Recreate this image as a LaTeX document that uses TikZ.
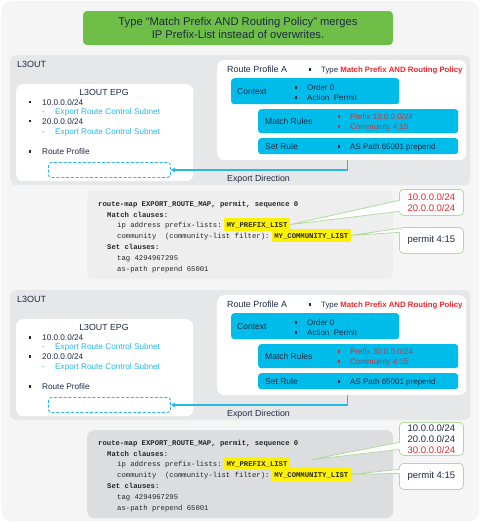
\documentclass[tikz,border=0pt]{standalone}
\usepackage{fontspec}
\setmainfont{Liberation Sans}
\setmonofont{Liberation Mono}
\usetikzlibrary{arrows.meta, positioning}
\definecolor{cscyan}{RGB}{0, 188, 235}
\definecolor{csline}{RGB}{40, 184, 230}
\definecolor{csnavy}{RGB}{30, 42, 68}
\definecolor{csred}{RGB}{232, 40, 45}
\definecolor{csrust}{RGB}{200, 55, 60}
\definecolor{csgreen}{RGB}{110, 190, 72}
\definecolor{csmint}{RGB}{178, 218, 160}
\definecolor{bgout}{RGB}{245, 245, 245}
\definecolor{bgpanel}{RGB}{230, 231, 232}
\definecolor{codeA}{RGB}{238, 238, 238}
\definecolor{codeB}{RGB}{220, 221, 222}
\newcommand{\fsz}[1]{\fontsize{#1}{#1}\selectfont}
\newcommand{\sqbul}{\rule[0.22em]{0.28em}{0.28em}}

\begin{document}
\begin{tikzpicture}[
    x=1pt, y=-1pt,
    txt/.style={anchor=west, inner sep=0pt, text=csnavy,
                text height=1.5ex, text depth=.25ex},
    panel/.style={fill=bgpanel, rounded corners=6pt, anchor=north west,
                  inner sep=0pt},
    card/.style={fill=white, rounded corners=7pt, anchor=north west,
                 inner sep=0pt},
    rulebox/.style={fill=cscyan, rounded corners=3pt, anchor=north west,
                    inner sep=0pt},
    codebox/.style={rounded corners=7pt, anchor=north west, inner sep=0pt},
    code/.style={anchor=west, inner sep=0pt, text=black!85,
                 font=\ttfamily\fsz{7.25}, text height=1.5ex, text depth=.25ex},
    codeb/.style={code, font=\ttfamily\bfseries\fsz{7.25}},
    hl/.style={fill=yellow, inner xsep=2.5pt, inner ysep=1.8pt, text=black!85,
               font=\ttfamily\bfseries\fsz{7.25}, text height=1.5ex,
               text depth=.25ex},
    bubble/.style={draw=csmint, fill=white, line width=0.8pt,
                   rounded corners=4pt, anchor=north west, align=center,
                   inner sep=0pt, font=\fontsize{9.5}{11}\selectfont},
    tailline/.style={draw=csmint, line width=0.8pt},
    link/.style={draw=csline, line width=1.2pt,
                 -{Triangle[length=4pt, width=4.5pt]}},
  ]
    \useasboundingbox (0,0) rectangle (480,522);
    \node[fill=bgout, rounded corners=10pt, anchor=north west, inner sep=0pt,
          minimum width=478pt, minimum height=520pt] (bg) at (1,1) {};

    % Title
    \node[fill=csgreen, rounded corners=4pt, minimum width=310pt,
          minimum height=34pt, align=center, text=csnavy,
          font=\fontsize{11.2}{12.5}\selectfont] (title) at (238,28)
      {Type “Match Prefix AND Routing Policy” merges\\IP Prefix-List instead of overwrites.};

    % Two L3OUT blocks
    \foreach \dy/\cy/\oct/\cf/\n in {0/0/10/codeA/1, 235/239/30/codeB/2} {
      \begin{scope}[shift={(0,\dy)}]
        \node[panel, minimum width=460pt, minimum height=130pt] (l3\n) at (10,55) {};
        \node[txt, font=\fsz{9}] (l3t\n) at (17,64) {L3OUT};
        % L3OUT EPG
        \node[card, minimum width=177pt, minimum height=97pt] (epg\n) at (16,84) {};
        \node[txt, anchor=center, font=\fsz{8.8}] (epgt\n) at (104,92) {L3OUT EPG};
        \node[txt, font=\fsz{8.2}] (sa\n) at (29,102) {\makebox[13pt][l]{\sqbul}10.0.0.0/24};
        \node[txt, font=\fsz{8.2}, text=csline] (sae\n) at (42,111)
          {\makebox[13pt][l]{-}Export Route Control Subnet};
        \node[txt, font=\fsz{8.2}] (sb\n) at (29,121) {\makebox[13pt][l]{\sqbul}20.0.0.0/24};
        \node[txt, font=\fsz{8.2}, text=csline] (sbe\n) at (42,131)
          {\makebox[13pt][l]{-}Export Route Control Subnet};
        \node[txt, font=\fsz{8.2}] (rpl\n) at (29,151) {\makebox[13pt][l]{\sqbul}Route Profile};
        \node[draw=csline, dashed, dash pattern=on 3pt off 1.8pt, line width=0.9pt,
              rounded corners=3pt, anchor=north west, inner sep=0pt,
              minimum width=122pt, minimum height=15pt] (rp\n) at (48,162) {};
        % Route Profile A
        \node[card, minimum width=249pt, minimum height=100pt] (rpa\n) at (217,60) {};
        \node[txt, font=\fsz{8.9}] (rpat\n) at (227,69) {Route Profile A};
        \node[txt, font=\fsz{7.8}] (rpty\n) at (309,69)
          {\makebox[12pt][l]{\sqbul}Type \textcolor{csred}{\bfseries Match Prefix AND Routing Policy}};
        \node[rulebox, minimum width=168pt, minimum height=26pt] (ctx\n) at (231,78) {};
        \node[txt, font=\fsz{8.5}] (ctxt\n) at (237,91) {Context};
        \node[txt, font=\fsz{8}] (ord\n) at (295,87) {\makebox[12pt][l]{\sqbul}Order 0};
        \node[txt, font=\fsz{8}] (act\n) at (295,97) {\makebox[12pt][l]{\sqbul}Action\ \ Permit};
        \node[rulebox, minimum width=200pt, minimum height=24pt] (mr\n) at (258,109) {};
        \node[txt, font=\fsz{8.5}] (mrt\n) at (265,121) {Match Rules};
        \node[txt, font=\fsz{8}, text=csrust] (mpf\n) at (338,116)
          {\makebox[12pt][l]{\sqbul}Prefix \oct.0.0.0/24};
        \node[txt, font=\fsz{8}, text=csrust] (mcm\n) at (338,126)
          {\makebox[12pt][l]{\sqbul}Community 4:15};
        \node[rulebox, minimum width=200pt, minimum height=16pt] (sr\n) at (258,138) {};
        \node[txt, font=\fsz{8.5}] (srt\n) at (265,146) {Set Rule};
        \node[txt, font=\fsz{8}] (asp\n) at (338,146)
          {\makebox[12pt][l]{\sqbul}AS Path 65001 prepend};
        \draw[link] ([xshift=5.5pt]rpa\n.south) |- (rp\n.east);
        \node[txt, font=\fsz{8.8}] (exd\n) at (227,178) {Export Direction};
      \end{scope}
      % route-map output
      \begin{scope}[shift={(0,\cy)}]
        \node[codebox, fill=\cf, minimum width=306pt, minimum height=88pt] (cb\n) at (87,191) {};
        \node[codeb] (rm\n) at (98,203) {route-map EXPORT\_ROUTE\_MAP, permit, sequence 0};
        \node[codeb] (mc\n) at (107,213.8) {Match clauses:};
        \node[code] (ip\n) at (117,224.6) {ip address prefix-lists:};
        \node[hl, right=2pt of ip\n] (pfx\n) {MY\_PREFIX\_LIST};
        \node[code] (cm\n) at (117,235.4) {community\ \ (community-list filter):};
        \node[hl, right=2pt of cm\n] (com\n) {MY\_COMMUNITY\_LIST};
        \node[codeb] (sc\n) at (107,246.2) {Set clauses:};
        \node[code] (tg\n) at (117,257) {tag 4294967295};
        \node[code] (ap\n) at (117,267.8) {as-path prepend 65001};
      \end{scope}
    }

    % Callouts
    \node[bubble, text=csred, minimum width=64pt, minimum height=26pt] (ca1) at (399,189)
      {10.0.0.0/24\\20.0.0.0/24};
    \node[bubble, text=csnavy, minimum width=64pt, minimum height=26pt] (cc1) at (399,227)
      {permit 4:15};
    \node[bubble, text=csnavy, minimum width=64pt, minimum height=33pt] (ca2) at (399,422)
      {10.0.0.0/24\\20.0.0.0/24\\\textcolor{csred}{30.0.0.0/24}};
    \node[bubble, text=csnavy, minimum width=64pt, minimum height=26pt] (cc2) at (399,463)
      {permit 4:15};
    \coordinate (tipb) at ([xshift=21pt, yshift=4pt]pfx2.east);
    \foreach \tip/\bx/\ya/\yb in {pfx1.east/ca1/2/-9, com1.east/cc1/12/8,
                                  tipb/ca2/-3.5/-10.5, com2.east/cc2/7/3} {
      \fill[white] (\tip) -- ([xshift=1.5pt, yshift=\ya pt]\bx.west)
        -- ([xshift=1.5pt, yshift=\yb pt]\bx.west) -- cycle;
      \draw[tailline] ([yshift=\ya pt]\bx.west) -- (\tip) -- ([yshift=\yb pt]\bx.west);
    }
  \end{tikzpicture}
\end{document}
